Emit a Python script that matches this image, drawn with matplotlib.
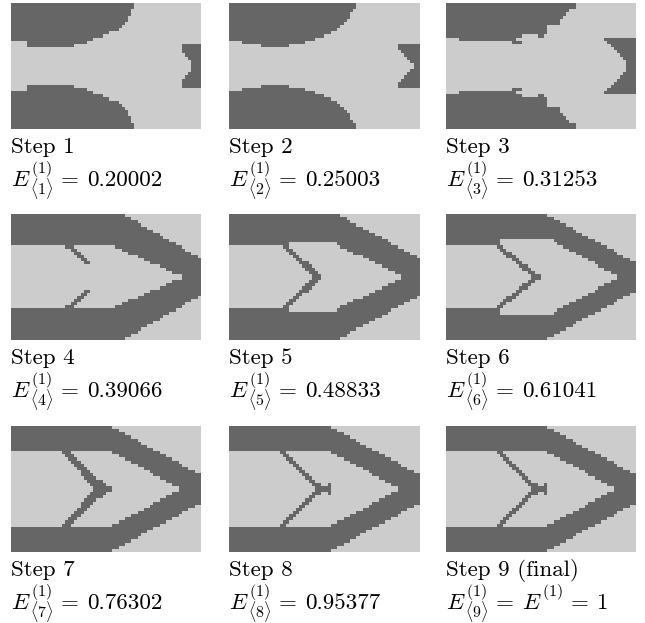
import numpy as np
import matplotlib
matplotlib.use("Agg")
import matplotlib.pyplot as plt
from matplotlib.colors import ListedColormap
from matplotlib.transforms import IdentityTransform

plt.rcParams["mathtext.fontset"] = "cm"
plt.rcParams["font.family"] = "serif"
plt.rcParams["font.serif"] = ["cmr10"]
plt.rcParams["axes.formatter.use_mathtext"] = True

N_ROWS, N_COLS = 40, 60

# solid (dark) cells of the upper half, rows 0..19, as inclusive column runs.
# the lower half of every design is taken as the mirror image.
step1 = [[(0, 38)], [(0, 38)], [(0, 37)], [(0, 37)], [(0, 36)], [(0, 36)],
         [(0, 35)], [(0, 34)], [(0, 33)], [(0, 30)], [(0, 28)], [(0, 25)],
         [(5, 23)], [(5, 19), (54, 59)], [(54, 59)], [(54, 59)], [(55, 59)],
         [(56, 59)], [(57, 59)], [(57, 59)]]
step2 = [[(0, 39)], [(0, 39)], [(0, 38)], [(0, 37)], [(0, 37)], [(0, 36)],
         [(0, 35)], [(0, 34)], [(0, 33)], [(0, 31)], [(0, 29)], [(0, 26)],
         [(4, 23)], [(10, 18), (53, 59)], [(53, 59)], [(54, 59)], [(55, 59)],
         [(56, 59)], [(57, 59)], [(58, 59)]]
step3 = [[(0, 40)], [(0, 40)], [(0, 38)], [(0, 37)], [(0, 36)], [(0, 35)],
         [(0, 35)], [(0, 31)], [(0, 31)], [(0, 31)], [(0, 23), (29, 30)],
         [(4, 21), (50, 59)], [(21, 23), (51, 59)], [(52, 59)], [(53, 59)],
         [(54, 59)], [(55, 59)], [(56, 59)], [(57, 59)], [(57, 59)]]
step4 = [[(0, 35)], [(0, 37)], [(0, 39)], [(0, 40)], [(0, 42)], [(0, 44)],
         [(0, 46)], [(0, 47)], [(0, 49)], [(0, 51)],
         [(17, 19), (33, 53)], [(19, 20), (35, 54)], [(20, 21), (37, 56)],
         [(21, 22), (40, 58)], [(22, 23), (42, 59)], [(23, 24), (44, 59)],
         [(47, 59)], [(49, 59)], [(51, 59)], [(54, 59)]]
step5 = [[(0, 34)], [(0, 36)], [(0, 37)], [(0, 39)], [(0, 41)], [(0, 43)],
         [(0, 45)], [(0, 47)], [(0, 49)], [(0, 18), (34, 50)],
         [(17, 18), (35, 52)], [(18, 19), (37, 54)], [(19, 20), (39, 56)],
         [(20, 21), (42, 58)], [(21, 22), (44, 59)], [(22, 24), (46, 59)],
         [(23, 25), (48, 59)], [(24, 26), (50, 59)], [(25, 27), (52, 59)],
         [(26, 28), (54, 59)]]
step6 = [[(0, 31)], [(0, 33)], [(0, 35)], [(0, 37)], [(0, 39)], [(0, 40)],
         [(0, 42)], [(0, 44)], [(0, 16), (34, 46)], [(0, 16), (35, 48)],
         [(16, 17), (37, 50)], [(17, 18), (39, 52)], [(18, 20), (41, 53)],
         [(19, 21), (43, 55)], [(21, 22), (45, 57)], [(22, 23), (47, 59)],
         [(23, 25), (48, 59)], [(24, 26), (50, 59)], [(26, 27), (52, 59)],
         [(27, 29), (54, 59)]]
step7 = [[(0, 31)], [(0, 33)], [(0, 35)], [(0, 37)], [(0, 39)], [(0, 40)],
         [(0, 42)], [(0, 44)], [(16, 18), (32, 46)], [(17, 19), (34, 48)],
         [(18, 20), (36, 50)], [(19, 21), (38, 52)], [(20, 22), (40, 53)],
         [(21, 23), (42, 55)], [(22, 24), (44, 57)], [(22, 25), (45, 59)],
         [(23, 26), (47, 59)], [(24, 28), (49, 59)], [(25, 29), (51, 59)],
         [(26, 31), (53, 59)]]
step8 = [[(0, 31)], [(0, 33)], [(0, 35)], [(0, 37)], [(0, 39)], [(0, 40)],
         [(0, 42)], [(0, 44)], [(16, 17), (32, 46)], [(17, 18), (34, 48)],
         [(18, 19), (36, 50)], [(19, 20), (38, 52)], [(20, 21), (40, 53)],
         [(21, 22), (42, 55)], [(22, 23), (44, 57)], [(23, 24), (45, 59)],
         [(24, 25), (47, 59)], [(25, 26), (49, 59)], [(26, 28), (31, 31), (51, 59)],
         [(27, 31), (53, 59)]]
step9 = [[(0, 31)], [(0, 33)], [(0, 35)], [(0, 37)], [(0, 39)], [(0, 40)],
         [(0, 42)], [(0, 44)], [(16, 17), (32, 46)], [(17, 18), (34, 48)],
         [(18, 19), (36, 50)], [(19, 20), (38, 52)], [(20, 21), (40, 53)],
         [(21, 22), (42, 55)], [(22, 23), (44, 57)], [(23, 24), (45, 59)],
         [(24, 25), (47, 59)], [(25, 26), (49, 59)], [(26, 28), (31, 31), (51, 59)],
         [(27, 31), (53, 59)]]

designs = [step1, step2, step3, step4, step5, step6, step7, step8, step9]
step_labels = ["Step 1", "Step 2", "Step 3", "Step 4", "Step 5", "Step 6",
               "Step 7", "Step 8", "Step 9 (final)"]
energies = ["0.20002", "0.25003", "0.31253", "0.39066", "0.48833",
            "0.61041", "0.76302", "0.95377", "1"]


def build(upper):
    grid = np.zeros((N_ROWS, N_COLS))
    for r, runs in enumerate(upper):
        for a, b in runs:
            grid[r, a:b + 1] = 1
            grid[N_ROWS - 1 - r, a:b + 1] = 1
    return grid


W, H = 645, 623
fig = plt.figure(figsize=(W / 100, H / 100), dpi=100)
renderer = fig.canvas.get_renderer()
px = IdentityTransform()
cmap = ListedColormap(["#cccccc", "#666666"])

col_x = [11, 229, 446]
row_y = [3, 214, 426]
pw, ph = 190, 126
fs = 16.6      # main text size
fs_s = 11.5    # script size


def put(x, base, s, size):
    # x, base in pixels, base measured from the top of the picture
    t = fig.text(x, H - base, s, fontsize=size, transform=px,
                 va="baseline", ha="left")
    return t.get_window_extent(renderer).x1


def put_E(x, base, sub=None):
    # E with the (1) superscript and an optional <k> subscript, latex-like
    xe = put(x, base, r"$E$", fs)
    right = put(xe, base - 13, r"$(1)$", fs_s)
    if sub is not None:
        right = max(right, put(xe - 1, base + 9,
                               r"$\langle %d\rangle$" % sub, fs_s))
    return right


for i, upper in enumerate(designs):
    x0 = col_x[i % 3]
    y0 = row_y[i // 3]
    ax = fig.add_axes([x0 / W, 1 - (y0 + ph) / H, pw / W, ph / H])
    ax.imshow(build(upper), cmap=cmap, vmin=0, vmax=1,
              interpolation="nearest", aspect="auto")
    ax.axis("off")

    k = i + 1
    put(x0, y0 + ph + 24, step_labels[i], fs)
    base = y0 + ph + 57
    x = put_E(x0, base, sub=k)
    x = put(x + 8, base, "=", fs)
    if k == 9:
        x = put_E(x + 8, base)
        x = put(x + 8, base, "=", fs)
    put(x + 8, base, energies[i], fs)

fig.savefig("out.png", dpi=100)
